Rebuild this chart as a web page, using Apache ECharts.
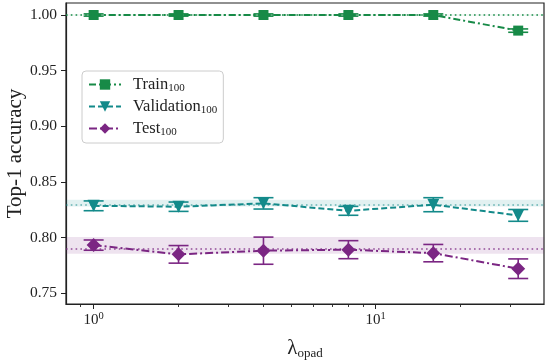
<!DOCTYPE html>
<html>
<head>
<meta charset="utf-8">
<script src="https://cdn.jsdelivr.net/npm/echarts@6/dist/echarts.min.js"></script>
<style>
html,body{margin:0;padding:0;background:#fff;}
#chart{width:550px;height:361px;}
</style>
</head>
<body>
<div id="chart"></div>
<script>
// ---- data ----
var lambdas = [1, 2, 4, 8, 16, 32];
var trainMean = [1.000, 1.000, 1.000, 1.000, 1.000, 0.986];
var trainErr  = [0.001, 0.001, 0.001, 0.001, 0.001, 0.0015];
var valMean   = [0.8286, 0.8278, 0.8308, 0.8241, 0.8296, 0.8200];
var valErr    = [0.0044, 0.0042, 0.0051, 0.0040, 0.0063, 0.0053];
var testMean  = [0.7933, 0.7850, 0.7883, 0.7892, 0.7861, 0.7721];
var testErr   = [0.0046, 0.0079, 0.0122, 0.0081, 0.0078, 0.0088];
// reference (baseline) mean and std band
var trainRef = 1.000, trainRefStd = 0.0004;
var valRef = 0.8311, valRefStd = 0.0030;
var testRef = 0.7931, testRefStd = 0.0075;
var yTicks = [0.75, 0.80, 0.85, 0.90, 0.95, 1.00];
var xMajorTicks = [1, 10];
var xMinorTicks = [0.9, 2, 3, 4, 5, 6, 7, 8, 9, 20, 30];

var cTrain = '#178a47', cVal = '#138a8a', cTest = '#7b2683';
var FONT = 'Liberation Serif';

function pairs(m){ return lambdas.map(function(l,i){ return [l, m[i]]; }); }
function errs(m,e){ return lambdas.map(function(l,i){ return [l, m[i]-e[i], m[i]+e[i]]; }); }

function errSeries(m, e, color){
  return {
    type: 'custom',
    data: errs(m, e),
    encode: {x: 0, y: [1, 2]},
    z: 3,
    silent: true,
    renderItem: function(params, api){
      var x = api.value(0), lo = api.value(1), hi = api.value(2);
      var p1 = api.coord([x, lo]), p2 = api.coord([x, hi]);
      var w = 10;
      var st = {stroke: color, lineWidth: 1.6, fill: null};
      return {type: 'group', children: [
        {type: 'line', shape: {x1: p1[0], y1: p1[1], x2: p2[0], y2: p2[1]}, style: st},
        {type: 'line', shape: {x1: p1[0]-w, y1: p1[1], x2: p1[0]+w, y2: p1[1]}, style: st},
        {type: 'line', shape: {x1: p2[0]-w, y1: p2[1], x2: p2[0]+w, y2: p2[1]}, style: st}
      ]};
    }
  };
}

function lineSeries(name, m, color, symbol, size, dash, rot, ref, refStd, bandColor, refColor){
  return {
    name: name, type: 'line', data: pairs(m),
    symbol: symbol, symbolSize: size, symbolRotate: rot || 0,
    z: 4,
    itemStyle: {color: color},
    lineStyle: {color: color, width: 2, type: dash},
    markArea: {silent: true, itemStyle: {color: bandColor}, data: [[{yAxis: ref - refStd}, {yAxis: ref + refStd}]]},
    markLine: {silent: true, symbol: 'none', label: {show: false},
      lineStyle: {color: refColor, width: 1.8, type: [1.6, 3.2]},
      data: [{yAxis: ref}]}
  };
}

var chart = echarts.init(document.getElementById('chart'), null, {renderer: 'canvas'});
var option = {
  animation: false,
  textStyle: {fontFamily: FONT},
  grid: {left: 66, right: 6, top: 3, bottom: 57, containLabel: false, outerBoundsMode: 'none',
    show: true, borderColor: '#222', borderWidth: 1.2, backgroundColor: 'transparent'},
  legend: {
    data: ['Train', 'Validation', 'Test'],
    orient: 'vertical', left: 82, top: 71,
    itemWidth: 32, itemHeight: 13, itemGap: 4,
    padding: [5, 6, 5, 6],
    backgroundColor: 'rgba(255,255,255,0.8)',
    borderColor: '#cccccc', borderWidth: 1, borderRadius: 4,
    formatter: function(n){ return '{g|}{m|' + n + '}{s|100}'; },
    textStyle: {
      fontFamily: FONT, color: '#222',
      rich: {
        g: {width: 7, height: 10},
        m: {fontFamily: FONT, fontSize: 16.5, color: '#222', lineHeight: 19},
        s: {fontFamily: FONT, fontSize: 11, color: '#222', lineHeight: 19, verticalAlign: 'bottom', padding: [6, 0, 0, 0]}
      }
    }
  },
  xAxis: [{
    type: 'log', logBase: 10, min: 0.798, max: 39.5,
    position: 'bottom',
    name: '{l|λ}{s|opad}', nameLocation: 'middle', nameGap: 32, nameMoveOverlap: false,
    nameTextStyle: {rich: {
      l: {fontFamily: FONT, fontSize: 21, color: '#222', lineHeight: 24},
      s: {fontFamily: FONT, fontSize: 13, color: '#222', lineHeight: 24, verticalAlign: 'bottom', padding: [8, 0, 0, 0]}
    }},
    axisLine: {show: true, onZero: false, lineStyle: {color: '#222', width: 1.2}},
    axisTick: {show: true, customValues: xMajorTicks, length: 5, lineStyle: {color: '#222', width: 1}},
    axisLabel: {show: true, customValues: xMajorTicks, margin: 7,
      formatter: function(v){ return '{b|10}{p|' + Math.round(Math.log10(v)) + '}'; },
      rich: {
        b: {fontFamily: FONT, fontSize: 15, color: '#222', lineHeight: 18},
        p: {fontFamily: FONT, fontSize: 10.5, color: '#222', lineHeight: 18, verticalAlign: 'top', padding: [0, 0, 6, 0]}
      }
    },
    splitLine: {show: false}, minorTick: {show: false}
  }, {
    type: 'log', logBase: 10, min: 0.798, max: 39.5,
    position: 'bottom',
    axisLine: {show: false, onZero: false},
    axisTick: {show: true, customValues: xMinorTicks, length: 3, lineStyle: {color: '#222', width: 0.9}},
    axisLabel: {show: false},
    splitLine: {show: false}
  }],
  yAxis: {
    type: 'value', min: 0.7404, max: 1.0108,
    name: 'Top-1 accuracy', nameLocation: 'middle', nameGap: 40, nameRotate: 90, nameMoveOverlap: false,
    nameTextStyle: {fontFamily: FONT, fontSize: 21, color: '#222'},
    axisLine: {show: true, onZero: false, lineStyle: {color: '#222', width: 1.2}},
    axisTick: {show: true, customValues: yTicks, length: 5, lineStyle: {color: '#222', width: 1}},
    axisLabel: {show: true, customValues: yTicks, margin: 9, fontFamily: FONT, fontSize: 15.5, color: '#222',
      formatter: function(v){ return v.toFixed(2); }},
    splitLine: {show: false}
  },
  series: [
    lineSeries('Train', trainMean, cTrain, 'rect', 10, [7, 3, 2, 3], 0, trainRef, trainRefStd, 'rgba(23,138,71,0.12)', 'rgba(23,138,71,0.75)'),
    errSeries(trainMean, trainErr, cTrain),
    lineSeries('Validation', valMean, cVal, 'triangle', 12, [6, 3], 180, valRef, valRefStd, 'rgba(19,138,138,0.12)', 'rgba(19,138,138,0.45)'),
    errSeries(valMean, valErr, cVal),
    lineSeries('Test', testMean, cTest, 'diamond', 14, [8, 3, 2, 3], 0, testRef, testRefStd, 'rgba(123,38,131,0.13)', 'rgba(123,38,131,0.6)'),
    errSeries(testMean, testErr, cTest)
  ]
};
chart.setOption(option);
</script>
</body>
</html>
